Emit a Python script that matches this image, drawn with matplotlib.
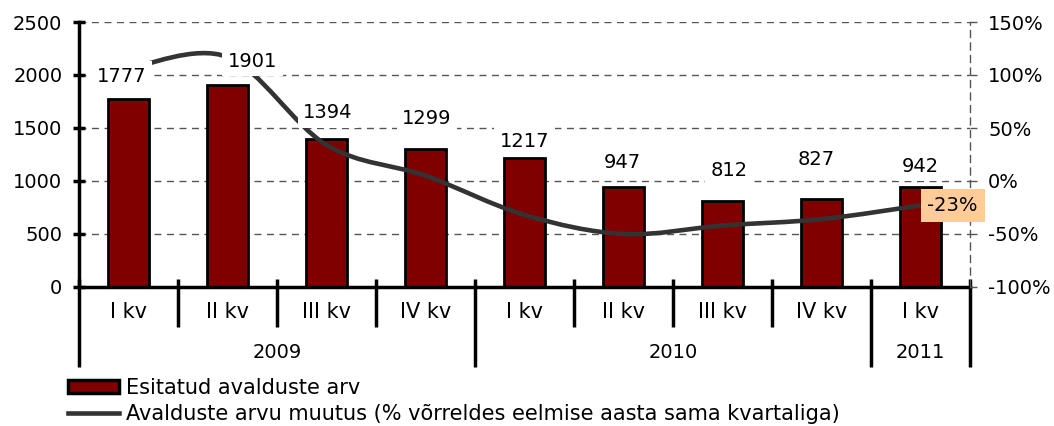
import matplotlib
matplotlib.use('Agg')
import matplotlib.pyplot as plt
from matplotlib.path import Path
from matplotlib.patches import PathPatch, Patch
from matplotlib.lines import Line2D
import numpy as np

# data
quarters = ['I kv', 'II kv', 'III kv', 'IV kv', 'I kv', 'II kv', 'III kv', 'IV kv', 'I kv']
years = ['2009', '2010', '2011']
year_spans = [(0, 4), (4, 8), (8, 9)]
applications = [1777, 1901, 1394, 1299, 1217, 947, 812, 827, 942]
change_pct = [106, 117, 34, 5, -32, -50, -42, -36, -23]

# label offsets (points) for the bar value labels, as placed in the original
label_dx = [-4.7, 18, 1, 1, 0, -1, 4.7, -4, 0]
label_dy = [16, 17.6, 19, 22.5, 12, 17.7, 22, 29, 15]

BAR = '#800000'
LINE = '#333333'
FS = 14      # numbers
FSW = 15     # words

fig = plt.figure(figsize=(10.54, 4.26), dpi=100)
ax = fig.add_axes([79 / 1054, 1 - 287 / 426, 891 / 1054, 265 / 426])
x = np.arange(len(applications))

ax.bar(x, applications, width=0.42, color=BAR, edgecolor='black', linewidth=2, zorder=2)
ax.set_xlim(-0.5, len(x) - 0.5)
ax.set_ylim(0, 2500)
ax.set_yticks(range(0, 2501, 500))
ax.yaxis.grid(True, linestyle=(0, (5, 4)), color='#555555', linewidth=1)
ax.set_axisbelow(True)
ax.set_xticks([])
for s in ['top', 'right']:
    ax.spines[s].set_visible(False)
ax.spines['left'].set_linewidth(2.5)
ax.spines['bottom'].set_linewidth(2.5)
ax.tick_params(axis='y', direction='inout', length=8, width=2.5, labelsize=FS, pad=8)

ax2 = ax.twinx()
ax2.set_ylim(-100, 150)
ax2.set_yticks(range(-100, 151, 50))
ax2.set_yticklabels(['%d%%' % v for v in range(-100, 151, 50)])
ax2.tick_params(axis='y', direction='out', length=5, width=1, color='#555555', labelsize=FS, pad=8)
for s in ['top', 'left', 'bottom']:
    ax2.spines[s].set_visible(False)
ax2.spines['right'].set_linestyle((0, (5, 4)))
ax2.spines['right'].set_color('#555555')
ax2.spines['right'].set_linewidth(1)

# smoothed line (Catmull-Rom style bezier through the data points)
pts = np.column_stack([x, change_pct]).astype(float)
ext = np.vstack([pts[0], pts, pts[-1]])
verts = [tuple(pts[0])]
codes = [Path.MOVETO]
for i in range(len(pts) - 1):
    p0, p1, p2, p3 = ext[i], ext[i + 1], ext[i + 2], ext[i + 3]
    c1 = p1 + (p2 - p0) / 6
    c2 = p2 - (p3 - p1) / 6
    verts += [tuple(c1), tuple(c2), tuple(p2)]
    codes += [Path.CURVE4] * 3
ax2.add_patch(PathPatch(Path(verts, codes), facecolor='none', edgecolor=LINE,
                        linewidth=3.3, capstyle='butt', zorder=2))

# bar value labels with white boxes on top of the line
for i, v in enumerate(applications):
    ax2.annotate(str(v), xy=(i, v), xycoords=ax.transData,
                 xytext=(label_dx[i], label_dy[i]), textcoords='offset points',
                 ha='center', va='center', fontsize=FS, zorder=5,
                 bbox=dict(boxstyle='square,pad=0.28', fc='white', ec='none'))

# last change label
ax2.annotate('%d%%' % change_pct[-1], xy=(x[-1], change_pct[-1]),
             xytext=(5, 0), textcoords='offset points', ha='left', va='center',
             fontsize=FS, zorder=6,
             bbox=dict(boxstyle='square,pad=0.35', fc='#FFCC99', ec='none'))

# category axis: quarter labels, separators, year labels
tr = ax.get_xaxis_transform()
for i, q in enumerate(quarters):
    ax.text(i, -0.094, q, transform=tr, ha='center', va='center', fontsize=FSW)
group_edges = [a for a, b in year_spans] + [year_spans[-1][1]]
for e in range(len(quarters) + 1):
    xe = e - 0.5
    bottom = -0.30 if e in group_edges else -0.15
    ax.plot([xe, xe], [0.03, bottom], transform=tr, color='black', lw=2.5,
            clip_on=False, solid_capstyle='butt')
for yr, (a, b) in zip(years, year_spans):
    ax.text((a + b - 1) / 2, -0.249, yr, transform=tr, ha='center', va='center', fontsize=FS)

handles = [Patch(facecolor=BAR, edgecolor='black', linewidth=2.5),
           Line2D([0], [0], color=LINE, lw=3.3)]
fig.legend(handles, ['Esitatud avalduste arv',
                     'Avalduste arvu muutus (% võrreldes eelmise aasta sama kvartaliga)'],
           loc='upper left', bbox_to_anchor=(68 / 1054, 1 - 378 / 426), frameon=False,
           fontsize=FSW, handlelength=2.45, handleheight=0.55, handletextpad=0.33,
           labelspacing=0.3, borderpad=0, borderaxespad=0)

fig.savefig('out.png', dpi=100)
